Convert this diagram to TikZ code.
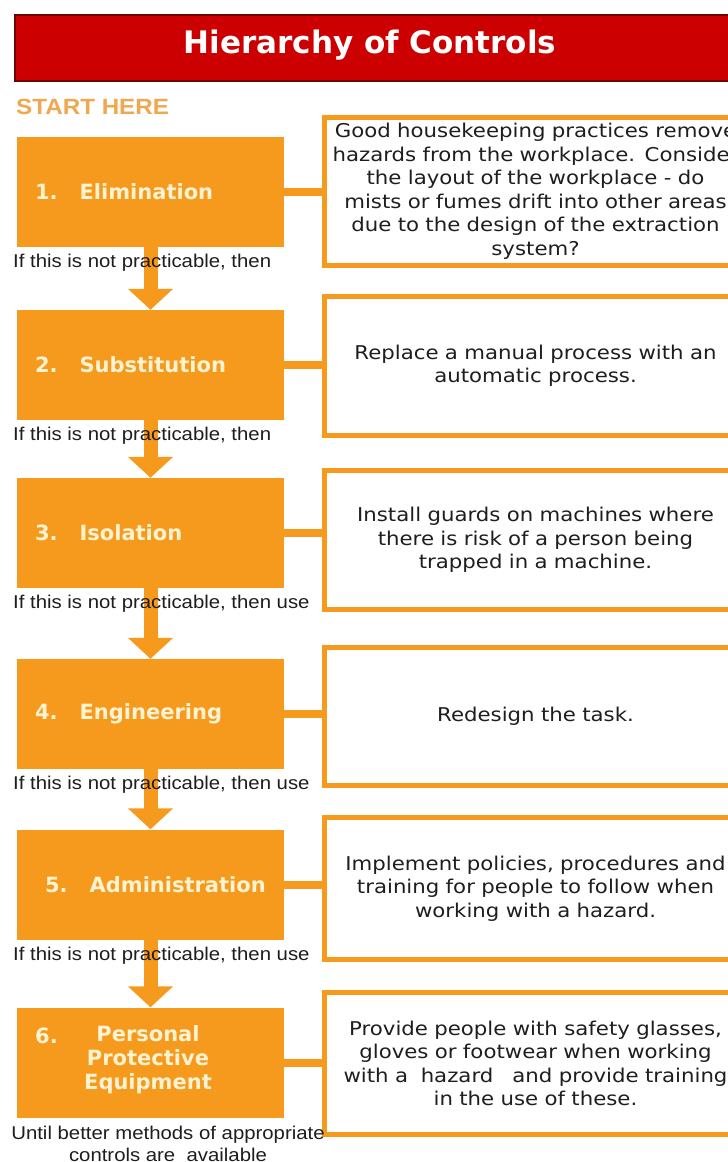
\documentclass[tikz,border=0pt]{standalone}
\usepackage{fontspec}
\setmainfont{DejaVu Sans}
\newfontfamily\arialf[FakeStretch=1.1]{Liberation Sans}
\newfontfamily\verd[FakeStretch=1.12]{DejaVu Sans}
\usetikzlibrary{arrows.meta}
\definecolor{org}{RGB}{246,154,30}
\definecolor{titlered}{RGB}{204,0,0}
\definecolor{titleborder}{RGB}{110,0,0}
\definecolor{starthere}{RGB}{240,168,80}
\definecolor{cream}{RGB}{255,243,210}
\definecolor{txt}{RGB}{30,30,30}
\tikzset{
  obox/.style={fill=org, draw=none, minimum width=267pt, minimum height=110pt, inner sep=0pt,
    text width=231pt, align=left, text=cream, font=\fontsize{21}{24}\selectfont\bfseries},
  rbox/.style={fill=white, draw=org, line width=5pt, minimum width=422pt, inner sep=0pt,
    text width=420pt, align=center, text=txt, font=\verd\fontsize{19}{23.5}\selectfont},
  conn/.style={draw=org, line width=8pt},
  flow/.style={draw=org, line width=14pt, -{Triangle[width=44pt,length=21pt]}},
  lbl/.style={anchor=west, inner sep=0pt, text=txt, font=\arialf\fontsize{18.5}{22}\selectfont}
}
\begin{document}
\begin{tikzpicture}[x=1pt,y=-1pt]
\useasboundingbox (0,0) rectangle (728,1162);
\clip (0,0) rectangle (728,1162);
\fill[white] (0,0) rectangle (728,1162);
% title
\node[fill=titlered, draw=titleborder, line width=2pt, minimum width=716pt, minimum height=66pt, inner sep=0pt] (title) at (373,47.5) {};
\node[text=white, font=\fontsize{31}{34}\selectfont\bfseries, inner sep=0pt] (ttext) at (370,45) {Hierarchy of Controls};
\node[anchor=west, inner sep=0pt, text=starthere, font=\arialf\fontsize{22}{24}\selectfont\bfseries] (start) at (16,107) {START HERE};
% orange boxes
\node[obox] (o1) at (150.5,192) {1.\hspace{22pt}Elimination};
\node[obox] (o2) at (150.5,365) {2.\hspace{22pt}Substitution};
\node[obox] (o3) at (150.5,533) {3.\hspace{22pt}Isolation};
\node[obox] (o4) at (150.5,714) {4.\hspace{22pt}Engineering};
\node[obox] (o5) at (150.5,884.5) {\hspace{10pt}5.\hspace{22pt}Administration};
\node[obox] (o6) at (150.5,1062.5) {};
\node[anchor=west, inner sep=0pt, text=cream, font=\fontsize{21}{24}\selectfont\bfseries] (n6) at (35,1036) {6.};
\node[inner sep=0pt, align=center, text=cream, font=\fontsize{21}{24}\selectfont\bfseries] (w6) at (148,1060) {Personal\\Protective\\Equipment};
% right boxes
\node[rbox, minimum height=148pt] (r1) at (535.5,191.5) {Good housekeeping practices remove\\hazards from the workplace. Consider\\the layout of the workplace - do\\mists or fumes drift into other areas\\due to the design of the extraction\\system?};
\node[rbox, minimum height=139pt] (r2) at (535.5,366) {Replace a manual process with an\\automatic process.};
\node[rbox, minimum height=139pt] (r3) at (535.5,540) {Install guards on machines where\\there is risk of a person being\\trapped in a machine.};
\node[rbox, minimum height=138pt] (r4) at (535.5,716.5) {Redesign the task.};
\node[rbox, minimum height=142pt] (r5) at (535.5,888.5) {Implement policies, procedures and\\training for people to follow when\\working with a hazard.};
\node[rbox, minimum height=142pt] (r6) at (535.5,1063.5) {Provide people with safety glasses,\\gloves or footwear when working\\with a~~hazard~~ and provide training\\in the use of these.};
% connectors
\foreach \i in {1,...,6} {
  \draw[conn] (o\i.east) -- (o\i.east -| r\i.west);
}
% flow arrows
\draw[flow] (o1.south) -- (o2.north);
\draw[flow] (o2.south) -- (o3.north);
\draw[flow] (o3.south) -- (o4.north);
\draw[flow] (o4.south) -- (o5.north);
\draw[flow] (o5.south) -- (o6.north);
% labels
\node[lbl] (l1) at (13,263) {If this is not practicable, then};
\node[lbl] (l2) at (13,436) {If this is not practicable, then};
\node[lbl] (l3) at (13,604) {If this is not practicable, then use};
\node[lbl] (l4) at (13,785) {If this is not practicable, then use};
\node[lbl] (l5) at (13,956) {If this is not practicable, then use};
\node[inner sep=0pt, align=center, text=txt, font=\arialf\fontsize{18.5}{22}\selectfont] (l6) at (168,1144) {Until better methods of appropriate\\controls are~ available};
\end{tikzpicture}
\end{document}
